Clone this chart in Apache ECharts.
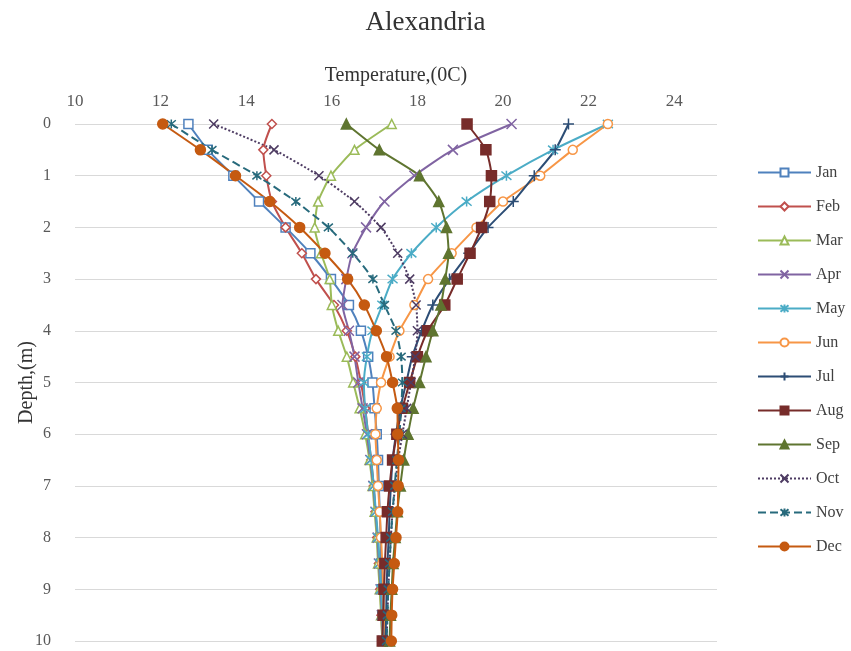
<!DOCTYPE html>
<html>
<head>
<meta charset="utf-8">
<script src="https://cdn.jsdelivr.net/npm/echarts@6/dist/echarts.min.js"></script>
<style>
  html, body { margin: 0; padding: 0; background: #fff; }
  #chart { width: 851px; height: 651px; }
</style>
</head>
<body>
<div id="chart"></div>
<script>
// depth (m) of every measurement
const depths = [0, 0.5, 1, 1.5, 2, 2.5, 3, 3.5, 4, 4.5, 5, 5.5, 6, 6.5, 7, 7.5, 8, 8.5, 9, 9.5, 10];
const months = ['Jan', 'Feb', 'Mar', 'Apr', 'May', 'Jun', 'Jul', 'Aug', 'Sep', 'Oct', 'Nov', 'Dec'];

// temperature (0C) by month, one value per depth
const jan = [12.65, 13.1, 13.7, 14.3, 14.92, 15.5, 15.98, 16.4, 16.68, 16.85, 16.95, 17.0, 17.05, 17.08, 17.1, 17.12, 17.14, 17.15, 17.17, 17.18, 17.2];
const feb = [14.6, 14.4, 14.47, 14.6, 14.92, 15.3, 15.63, 16.05, 16.35, 16.55, 16.68, 16.78, 16.85, 16.92, 16.98, 17.02, 17.06, 17.1, 17.13, 17.16, 17.18];
const mar = [17.4, 16.53, 15.98, 15.68, 15.6, 15.75, 15.95, 16.0, 16.15, 16.35, 16.5, 16.65, 16.78, 16.88, 16.95, 17.0, 17.05, 17.08, 17.12, 17.15, 17.18];
const apr = [20.2, 18.83, 17.93, 17.23, 16.8, 16.48, 16.34, 16.25, 16.4, 16.53, 16.62, 16.72, 16.82, 16.9, 16.97, 17.02, 17.07, 17.1, 17.14, 17.17, 17.2];
const may = [22.45, 21.17, 20.08, 19.15, 18.44, 17.86, 17.42, 17.18, 16.95, 16.82, 16.75, 16.78, 16.85, 16.92, 16.98, 17.03, 17.08, 17.12, 17.15, 17.18, 17.2];
const jun = [22.45, 21.63, 20.87, 20.0, 19.38, 18.8, 18.25, 17.93, 17.58, 17.35, 17.15, 17.05, 17.02, 17.05, 17.08, 17.12, 17.15, 17.18, 17.2, 17.22, 17.25];
const jul = [21.53, 21.22, 20.73, 20.24, 19.65, 19.2, 18.75, 18.36, 18.1, 17.88, 17.74, 17.6, 17.5, 17.42, 17.38, 17.35, 17.33, 17.3, 17.28, 17.27, 17.25];
const aug = [19.16, 19.6, 19.73, 19.69, 19.5, 19.23, 18.93, 18.64, 18.24, 18.0, 17.82, 17.65, 17.52, 17.42, 17.35, 17.3, 17.27, 17.24, 17.22, 17.2, 17.18];
const sep = [16.34, 17.11, 18.05, 18.5, 18.68, 18.73, 18.65, 18.55, 18.36, 18.2, 18.05, 17.9, 17.78, 17.68, 17.6, 17.53, 17.48, 17.43, 17.4, 17.37, 17.35];
const oct = [13.24, 14.65, 15.7, 16.53, 17.15, 17.54, 17.82, 17.97, 18.0, 17.95, 17.85, 17.75, 17.65, 17.55, 17.48, 17.42, 17.38, 17.35, 17.32, 17.3, 17.28];
const nov = [12.25, 13.2, 14.25, 15.16, 15.92, 16.49, 16.96, 17.23, 17.5, 17.62, 17.65, 17.62, 17.58, 17.52, 17.47, 17.42, 17.38, 17.35, 17.32, 17.3, 17.28];
const dec = [12.05, 12.93, 13.75, 14.55, 15.25, 15.84, 16.37, 16.76, 17.04, 17.28, 17.42, 17.53, 17.54, 17.56, 17.55, 17.54, 17.5, 17.46, 17.42, 17.4, 17.39];

const xTicks = [10, 12, 14, 16, 18, 20, 22, 24];

// marker shapes
const xMark = 'path://M0,0L10,10M10,0L0,10';
const plusMark = 'path://M5,0L5,10M0,5L10,5';
const starMark = 'path://M0,0L10,10M10,0L0,10M5,-1L5,11';

const chart = echarts.init(document.getElementById('chart'));

function mkSeries(name, temps, color, symbol, size, dash, filled) {
    return {
        name: name,
        type: 'line',
        data: temps.map(function (t, i) { return [t, depths[i]]; }),
        smooth: 0.2,
        symbol: symbol,
        symbolSize: size,
        showAllSymbol: true,
        lineStyle: { color: color, width: 2, type: dash || 'solid' },
        itemStyle: {
            color: filled ? color : '#fff',
            borderColor: color,
            borderWidth: 1.5
        },
        emphasis: { disabled: true }
    };
}

chart.setOption({
    backgroundColor: '#fff',
    animation: false,
    title: {
        text: 'Alexandria',
        left: 'center',
        top: 4,
        textStyle: { fontFamily: 'Liberation Serif', fontSize: 27, fontWeight: 'normal', color: '#333' }
    },
    // keep the plot box fixed, do not let labels push it
    grid: { left: 75, top: 124, width: 642, height: 517, outerBoundsMode: 'none' },
    legend: {
        orient: 'vertical',
        left: 752,
        top: 159,
        itemWidth: 53,
        itemHeight: 10,
        itemGap: 17,
        data: months,
        textStyle: { fontFamily: 'Liberation Serif', fontSize: 16, color: '#404040', lineHeight: 17 }
    },
    xAxis: {
        type: 'value',
        position: 'top',
        min: 10,
        max: 25,
        interval: 2,
        name: 'Temperature,(0C)',
        nameLocation: 'middle',
        nameGap: 38,
        nameMoveOverlap: false,
        nameTextStyle: { fontFamily: 'Liberation Serif', fontSize: 20, color: '#333' },
        axisLine: { show: false },
        axisTick: { show: false },
        splitLine: { show: false },
        axisLabel: {
            margin: 14,
            fontFamily: 'Liberation Serif',
            fontSize: 17,
            color: '#595959',
            formatter: function (v) { return xTicks.indexOf(v) >= 0 ? String(v) : ''; }
        }
    },
    yAxis: {
        type: 'value',
        inverse: true,
        min: 0,
        max: 10,
        interval: 1,
        name: 'Depth,(m)',
        nameLocation: 'middle',
        nameRotate: 90,
        nameGap: 38,
        nameMoveOverlap: false,
        nameTextStyle: { fontFamily: 'Liberation Serif', fontSize: 20, color: '#333' },
        axisLine: { show: false },
        axisTick: { show: false },
        splitLine: { lineStyle: { color: '#D9D9D9', width: 1 } },
        axisLabel: { margin: 24, fontFamily: 'Liberation Serif', fontSize: 16, color: '#595959' }
    },
    series: [
        mkSeries('Jan', jan, '#4F81BD', 'rect', 9, 'solid', false),
        mkSeries('Feb', feb, '#C0504D', 'diamond', 9, 'solid', false),
        mkSeries('Mar', mar, '#9BBB59', 'triangle', 9, 'solid', false),
        mkSeries('Apr', apr, '#8064A2', xMark, 10, 'solid', true),
        mkSeries('May', may, '#4BACC6', starMark, 10, 'solid', true),
        mkSeries('Jun', jun, '#F79646', 'circle', 9, 'solid', false),
        mkSeries('Jul', jul, '#2C4D75', plusMark, 11, 'solid', true),
        mkSeries('Aug', aug, '#772C2A', 'rect', 10, 'solid', true),
        mkSeries('Sep', sep, '#5F7530', 'triangle', 10, 'solid', true),
        mkSeries('Oct', oct, '#4D3B62', xMark, 9, 'dotted', true),
        mkSeries('Nov', nov, '#276A7C', starMark, 9, 'dashed', true),
        mkSeries('Dec', dec, '#C55A11', 'circle', 10, 'solid', true)
    ]
});
</script>
</body>
</html>
